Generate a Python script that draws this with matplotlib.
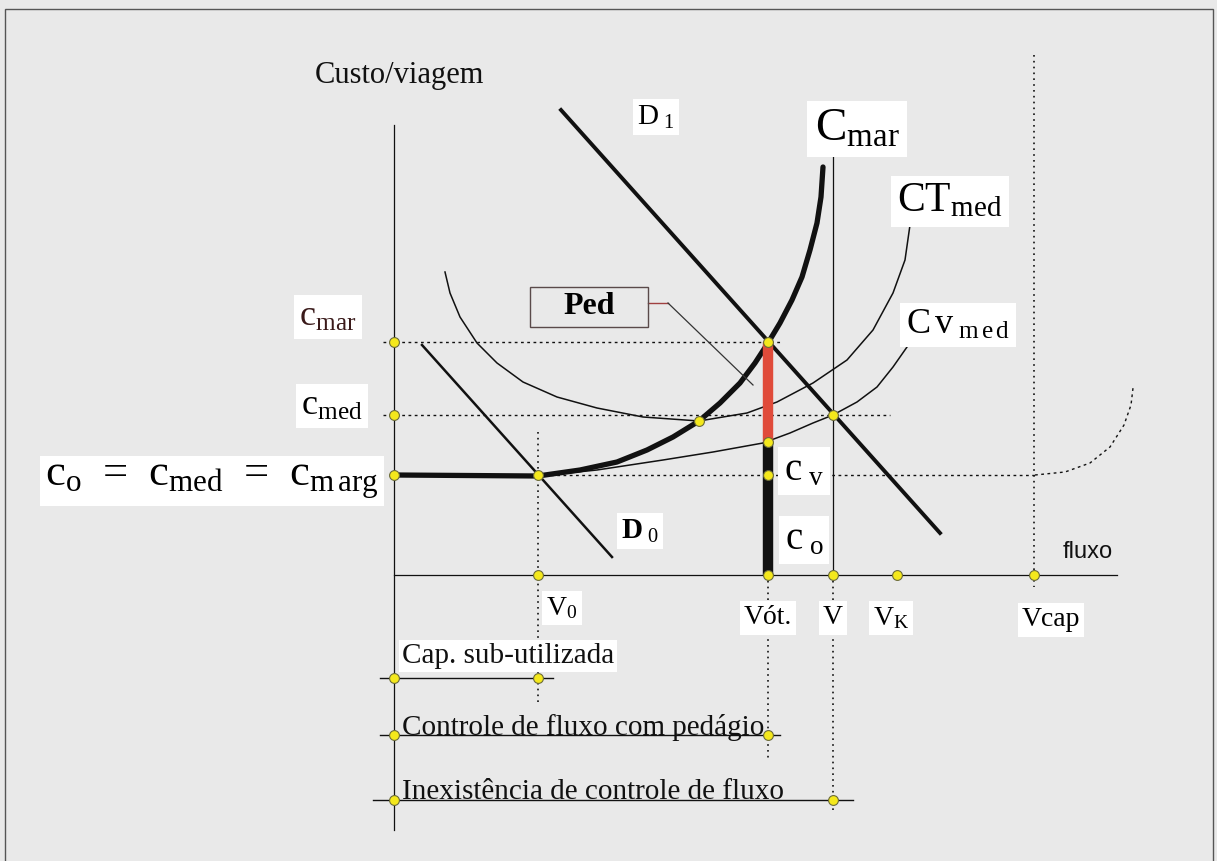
import matplotlib
matplotlib.use('Agg')
import matplotlib.pyplot as plt
from matplotlib.patches import Rectangle

plt.rcParams['font.family'] = ['Liberation Serif', 'DejaVu Serif']
plt.rcParams['mathtext.fontset'] = 'custom'
plt.rcParams['mathtext.rm'] = 'Liberation Serif'
plt.rcParams['mathtext.it'] = 'Liberation Serif:italic'
plt.rcParams['mathtext.bf'] = 'Liberation Serif:bold'

# flows (x) and cost levels (y), diagram units
V0, Vot, V, VK, Vcap = 14.4, 37.4, 43.9, 50.3, 64.0
c0, cmed, cmar = 10.0, 16.0, 23.3
cv_ot = 13.3          # average variable cost at Vót
min_ct_x = 30.5       # min of CT_med (where C_mar crosses it)
min_ct_y = 15.4

# marginal cost curve (thick)
cmar_x = [0.0, 14.4, 18.6, 22.3, 25.3, 27.9, 30.5, 32.6, 34.6, 36.1, 37.4, 38.6, 39.8, 40.8, 41.6, 42.3, 42.7, 42.9]
cmar_y = [10.0, 9.9, 10.5, 11.3, 12.5, 13.8, 15.4, 17.2, 19.2, 21.2, 23.2, 25.2, 27.5, 29.8, 32.5, 35.2, 37.8, 40.8]

# average total cost
ct_x = [5.1, 5.6, 6.6, 8.3, 10.3, 12.9, 16.3, 20.3, 24.9, 30.5, 35.3, 38.3, 41.9, 45.3, 47.9, 49.9, 51.1, 51.6]
ct_y = [30.3, 28.2, 25.8, 23.2, 21.2, 19.3, 17.8, 16.7, 15.8, 15.4, 16.2, 17.3, 19.2, 21.5, 24.5, 28.2, 31.5, 35.0]

# average variable cost
cv_x = [14.4, 20.3, 26.9, 31.9, 36.9, 39.6, 41.9, 43.9, 46.3, 48.3, 49.9, 51.3]
cv_y = [9.9, 10.5, 11.5, 12.3, 13.2, 14.2, 15.2, 16.0, 17.3, 18.8, 20.8, 22.8]

# demand lines
d1_x, d1_y = [16.7, 54.6], [46.5, 4.2]
d0_x, d0_y = [2.8, 21.8], [23.0, 1.8]

# dotted capacity tail
tail_x = [64.1, 67.1, 69.6, 71.6, 73.0, 73.7, 73.9]
tail_y = [10.0, 10.3, 11.2, 12.8, 15.0, 17.0, 18.7]

# lower bars (range of flow regimes)
row_labels = ['Cap. sub-utilizada', 'Controle de fluxo com pedágio', 'Inexistência de controle de fluxo']
row_y = [-10.3, -16.0, -22.5]
row_end = [V0, Vot, V]
row_line_end = [15.9, 38.6, 45.9]
row_line_start = [-1.4, -1.4, -2.1]
row_text_y = [-8.8, -16.0, -22.4]

flow_ticks = [V0, Vot, V, VK, Vcap]
flow_names = [r'V$_0$', 'Vót.', 'V', r'V$_{\mathrm{K}}$', 'Vcap']
flow_name_y = [-3.3, -4.3, -4.3, -4.3, -4.5]
flow_name_dx = [2.4, 0.0, 0.0, -0.6, 1.7]

fig = plt.figure(figsize=(12.17, 8.61), dpi=100)
fig.patch.set_facecolor('#e9e9e9')
ax = fig.add_axes([0, 0, 1, 1])
ax.set_facecolor('#e9e9e9')
ax.set_xlim(-39.4, 82.3)
ax.set_ylim(-28.6, 57.5)
ax.axis('off')

ax.add_patch(Rectangle((0.004, -0.05), 0.9927, 1.0395, transform=ax.transAxes,
                       fill=False, ec='#555555', lw=1.0))

k = '#111111'
thin = 1.1
dot = dict(color=k, lw=1.0, ls=(0, (2, 2.5)))
fine_dot = dict(color=k, lw=1.2, ls=(0, (1, 2.5)))

# axes
ax.plot([0, 0], [-25.5, 45.0], color=k, lw=0.9, zorder=5.5)
ax.plot([0, 72.3], [0, 0], color=k, lw=0.9)

# horizontal guides
ax.plot([-1.1, 38.6], [cmar, cmar], **dot)
ax.plot([-1.1, 49.6], [cmed, cmed], **dot)
ax.plot([V0, tail_x[0]], [c0, c0], **dot)
ax.plot(tail_x, tail_y, **dot)

# vertical guides
ax.plot([V0, V0], [14.3, -13.0], **fine_dot)
ax.plot([Vot, Vot], [0, -18.5], **fine_dot)
ax.plot([V, V], [41.8, 0], color=k, lw=0.9)
ax.plot([V, V], [0, -23.6], **fine_dot)
ax.plot([Vcap, Vcap], [52.0, -1.2], **fine_dot)

# curves
ax.plot(ct_x, ct_y, color=k, lw=thin, solid_joinstyle='round')
ax.plot(cv_x, cv_y, color=k, lw=thin, solid_joinstyle='round')
ax.plot(cmar_x, cmar_y, color=k, lw=3.8, solid_capstyle='round', solid_joinstyle='round')
ax.plot(d1_x, d1_y, color=k, lw=2.8)
ax.plot(d0_x, d0_y, color=k, lw=1.8)

# toll segment
ax.plot([Vot, Vot], [0, cv_ot], color=k, lw=7.5, solid_capstyle='butt', zorder=4)
ax.plot([Vot, Vot], [cv_ot, cmar], color='#e04b3a', lw=7.5, solid_capstyle='butt', zorder=4)

# lower regime rows
for y, xs, xe in zip(row_y, row_line_start, row_line_end):
    ax.plot([xs, xe], [y, y], color=k, lw=1.0)

# yellow points
px = [0, 0, 0, V0, min_ct_x, Vot, Vot, Vot, V] + flow_ticks + [0] * 3 + row_end
py = [cmar, cmed, c0, c0, min_ct_y, cmar, cv_ot, c0, cmed] + [0] * 5 + row_y + row_y
ax.scatter(px, py, s=50, marker='o', c='#f4e81c', edgecolors='#6b6b3a', linewidths=0.8, zorder=6)

wbox = dict(boxstyle='square,pad=0.15', fc='white', ec='none')

ax.text(-7.9, 49.9, 'Custo/viagem', fontsize=22, ha='left', va='center', color=k)
ax.text(66.9, 2.3, 'fluxo', fontsize=17, family='Liberation Sans', ha='left', va='center', color=k)

ax.text(-6.6, 25.8, r'$\mathrm{c}_{\mathrm{mar}}$', fontsize=26, ha='center', va='center',
        color='#3a1a1a', bbox=wbox, zorder=5)
ax.text(-6.2, 16.9, r'$\mathrm{c}_{\mathrm{med}}$', fontsize=26, ha='center', va='center',
        bbox=wbox, zorder=5)
ax.text(-18.2, 9.4,
        r'$\mathrm{c}_{\mathrm{o}}\;\,=\;\,\mathrm{c}_{\mathrm{med}}\;\,=\;\,\mathrm{c}_{\mathrm{m\,arg}}$',
        fontsize=32, ha='center', va='center',
        bbox=dict(boxstyle='square,pad=0.12', fc='white', ec='none'), zorder=5)

ax.text(26.2, 45.8, r'$\mathrm{D}_{\ \mathrm{1}}$', fontsize=21, ha='center', va='center', bbox=wbox, zorder=5)
ax.text(24.6, 4.4, r'$\mathbf{D}_{\ \mathrm{0}}$', fontsize=21, ha='center', va='center', bbox=wbox, zorder=5)
ax.text(46.3, 44.6, r'$\mathrm{C}_{\mathrm{mar}}$', fontsize=34, ha='center', va='center', bbox=wbox, zorder=5)
ax.text(55.6, 37.4, r'$\mathrm{CT}_{\mathrm{med}}$', fontsize=30, ha='center', va='center', bbox=wbox, zorder=5)
ax.text(56.4, 25.0, r'$\mathrm{C\,v}_{\ \mathrm{m\,e\,d}}$', fontsize=26, ha='center', va='center', bbox=wbox, zorder=5)

ax.text(41.0, 10.4, r'$\mathrm{c}_{\ \mathrm{v}}$', fontsize=28, ha='center', va='center', bbox=wbox, zorder=5)
ax.text(41.0, 3.5, r'$\mathrm{c}_{\ \mathrm{o}}$', fontsize=28, ha='center', va='center', bbox=wbox, zorder=5)

# Ped callout
ax.add_patch(Rectangle((13.6, 24.8), 11.8, 4.0, fill=False, ec='#5a4a4a', lw=1.0, zorder=5))
ax.text(19.5, 26.8, 'Ped', fontsize=23, fontweight='bold', ha='center', va='center', zorder=5)
ax.plot([25.4, 27.4], [27.2, 27.2], color='#a04040', lw=1.0)
ax.plot([27.4, 35.9], [27.2, 19.0], color='#333333', lw=0.9)

for xv, name, yv, dx in zip(flow_ticks, flow_names, flow_name_y, flow_name_dx):
    ax.text(xv + dx, yv, name, fontsize=20, ha='center', va='center', bbox=wbox, zorder=5)

for label, ty in zip(row_labels, row_text_y):
    ax.text(0.8, ty, label, fontsize=21, ha='left', va='baseline', color=k, zorder=5,
            bbox=dict(boxstyle='square,pad=0.1', fc='white', ec='none') if ty == row_text_y[0] else None)

fig.savefig('out.png', dpi=100, facecolor=fig.get_facecolor())
